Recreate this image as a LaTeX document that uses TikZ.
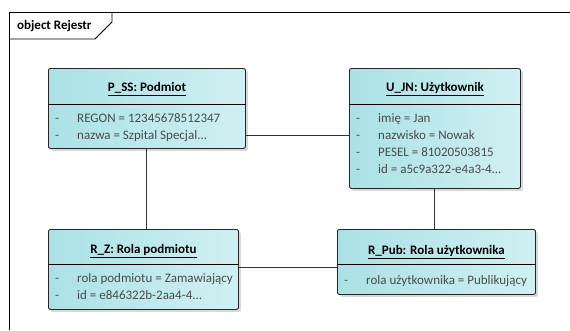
\documentclass[tikz,border=0pt]{standalone}
\usepackage{fontspec}
\setmainfont{Carlito}
\usetikzlibrary{shadows}

\definecolor{boxL}{RGB}{170,225,229}
\definecolor{boxR}{RGB}{208,240,242}
\definecolor{attrgray}{RGB}{75,75,75}

\tikzset{
  objbox/.style={draw=black!85, line width=0.9pt, rounded corners=2pt,
    left color=boxL, right color=boxR, anchor=north west,
    drop shadow={opacity=0.3, shadow xshift=2.5pt, shadow yshift=-2.5pt}},
  objtitle/.style={font=\fontsize{13}{15}\selectfont\bfseries, inner sep=0pt},
  attrtext/.style={font=\fontsize{13}{15}\selectfont, text=attrgray, anchor=base west, inner sep=0pt},
  link/.style={draw=black!80, line width=0.8pt}
}

\begin{document}
\begin{tikzpicture}[x=1pt,y=-1pt]
\useasboundingbox (0,0) rectangle (570,330);

% Frame
\draw[line width=0.9pt] (570,12) -- (9,12) -- (9,330);
\coordinate (tabend) at (95,39);
\draw[line width=0.9pt] (9,39) -- (tabend) -- (112,22) -- (112,12);
\node[objtitle, anchor=west] (frametitle) at (17,26) {object Rejestr};

% P_SS
\node[objbox, minimum width=197pt, minimum height=80pt] (pss) at (48,68) {};
\draw[line width=0.8pt] ([yshift=-36pt]pss.north west) -- ([yshift=-36pt]pss.north east);
\node[objtitle] (psst) at ([yshift=-21pt]pss.north) {\underline{P\_SS: Podmiot}};
\node[attrtext] at ([xshift=7pt,yshift=-54pt]pss.north west) {-};
\node[attrtext] at ([xshift=29pt,yshift=-54pt]pss.north west) {REGON = 12345678512347};
\node[attrtext] at ([xshift=7pt,yshift=-71pt]pss.north west) {-};
\node[attrtext] at ([xshift=29pt,yshift=-71pt]pss.north west) {nazwa = Szpital Specjal...};

% U_JN
\node[objbox, minimum width=171pt, minimum height=120pt] (ujn) at (349,68) {};
\draw[line width=0.8pt] ([yshift=-36pt]ujn.north west) -- ([yshift=-36pt]ujn.north east);
\node[objtitle] (ujnt) at ([yshift=-21pt]ujn.north) {\underline{U\_JN: Użytkownik}};
\foreach \row/\txt in {0/{imię = Jan},1/{nazwisko = Nowak},2/{PESEL = 81020503815},3/{id = a5c9a322-e4a3-4...}}{
  \node[attrtext] at ([xshift=7pt,yshift=-54pt-17*\row pt]ujn.north west) {-};
  \node[attrtext] at ([xshift=29pt,yshift=-54pt-17*\row pt]ujn.north west) {\txt};
}

% R_Z
\node[objbox, minimum width=190pt, minimum height=80pt] (rz) at (48,229) {};
\draw[line width=0.8pt] ([yshift=-35pt]rz.north west) -- ([yshift=-35pt]rz.north east);
\node[objtitle] (rzt) at ([yshift=-22pt]rz.north) {\underline{R\_Z: Rola podmiotu}};
\node[attrtext] at ([xshift=7pt,yshift=-53pt]rz.north west) {-};
\node[attrtext] at ([xshift=29pt,yshift=-53pt]rz.north west) {rola podmiotu = Zamawiający};
\node[attrtext] at ([xshift=7pt,yshift=-70pt]rz.north west) {-};
\node[attrtext] at ([xshift=29pt,yshift=-70pt]rz.north west) {id = e846322b-2aa4-4...};

% R_Pub
\node[objbox, minimum width=198pt, minimum height=65pt] (rpub) at (337,229) {};
\draw[line width=0.8pt] ([yshift=-35pt]rpub.north west) -- ([yshift=-35pt]rpub.north east);
\node[objtitle] (rpubt) at ([yshift=-23pt]rpub.north) {\underline{R\_Pub: Rola użytkownika}};
\node[attrtext] at ([xshift=7pt,yshift=-55pt]rpub.north west) {-};
\node[attrtext] at ([xshift=29pt,yshift=-55pt]rpub.north west) {rola użytkownika = Publikujący};

% Links
\draw[link] ([yshift=-67pt]pss.north east) -- ([yshift=-67pt]pss.north east -| ujn.west);
\draw[link] ([xshift=-1pt]pss.south) -- ([xshift=-1pt]pss.south |- rz.north);
\draw[link] ([xshift=-1pt]ujn.south) -- ([xshift=-1pt]ujn.south |- rpub.north);
\draw[link] ([yshift=-38pt]rz.north east) -- ([yshift=-38pt]rz.north east -| rpub.west);

\end{tikzpicture}
\end{document}
